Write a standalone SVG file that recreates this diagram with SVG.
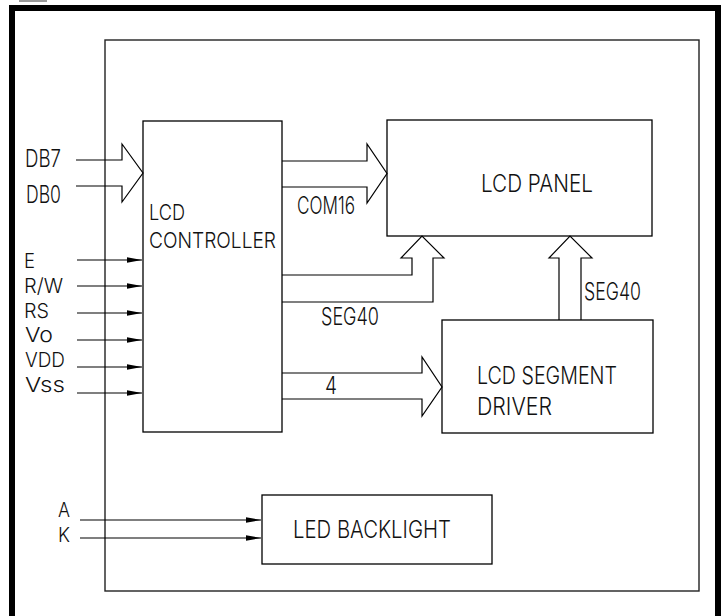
<svg xmlns="http://www.w3.org/2000/svg" width="726" height="616" viewBox="0 0 726 616">
<style>
.t{font-family:Inter,"DejaVu Sans Mono","Liberation Sans",sans-serif;font-weight:300;font-size:23.5px;fill:#111;}
.s{font-size:20.5px;}
.m{font-size:22px;}
.ln{fill:none;stroke:#000;stroke-width:1.2;}
.box{fill:none;stroke:#000;stroke-width:1.3;}
</style>
<defs>
<marker id="ah" markerUnits="userSpaceOnUse" markerWidth="16" markerHeight="8" refX="15" refY="4" orient="auto">
<path d="M0,1.3 L15,4 L0,6.7 Z" fill="#000"/>
</marker>
</defs>
<rect width="726" height="616" fill="#fff"/>
<rect x="19" y="0" width="28" height="2" fill="#999"/>
<path d="M12,616 V8 H718 V616" fill="none" stroke="#000" stroke-width="6"/>
<rect id="module" x="105" y="40" width="594" height="551" fill="none" stroke="#222" stroke-width="1.4"/>

<g id="lcd-controller">
<rect class="box" x="143" y="121" width="139" height="311"/>
<text class="t m" x="149" y="220" textLength="36" lengthAdjust="spacingAndGlyphs">LCD</text>
<text class="t m" x="149" y="248" textLength="127" lengthAdjust="spacingAndGlyphs">CONTROLLER</text>
</g>
<g id="lcd-panel">
<rect class="box" x="387" y="120" width="265" height="116"/>
<text class="t" x="481" y="192" textLength="112" lengthAdjust="spacingAndGlyphs">LCD PANEL</text>
</g>
<g id="lcd-segment-driver">
<rect class="box" x="442" y="320" width="211" height="113"/>
<text class="t" x="477" y="384" textLength="140" lengthAdjust="spacingAndGlyphs">LCD SEGMENT</text>
<text class="t" x="477" y="415" textLength="75" lengthAdjust="spacingAndGlyphs">DRIVER</text>
</g>
<g id="led-backlight">
<rect class="box" x="262" y="495" width="230" height="69"/>
<text class="t" x="293" y="538" textLength="158" lengthAdjust="spacingAndGlyphs">LED BACKLIGHT</text>
</g>

<g id="labels">
<text class="t" x="25" y="167" textLength="36" lengthAdjust="spacingAndGlyphs">DB7</text>
<text class="t" x="26" y="203" textLength="35" lengthAdjust="spacingAndGlyphs">DB0</text>
<text class="t s" x="24" y="268" textLength="11" lengthAdjust="spacingAndGlyphs">E</text>
<text class="t s" x="24" y="293" textLength="39" lengthAdjust="spacingAndGlyphs">R/W</text>
<text class="t s" x="24" y="318" textLength="25" lengthAdjust="spacingAndGlyphs">RS</text>
<text class="t s" x="25" y="342" textLength="28" lengthAdjust="spacingAndGlyphs">Vo</text>
<text class="t s" x="25" y="367" textLength="40" lengthAdjust="spacingAndGlyphs">VDD</text>
<text class="t s" x="25" y="392" textLength="40" lengthAdjust="spacingAndGlyphs">Vss</text>
<text class="t" x="297" y="214" textLength="58" lengthAdjust="spacingAndGlyphs">COM16</text>
<text class="t" x="321" y="325" textLength="58" lengthAdjust="spacingAndGlyphs">SEG40</text>
<text class="t" x="584" y="300" textLength="57" lengthAdjust="spacingAndGlyphs">SEG40</text>
<text class="t" x="325" y="394" textLength="12" lengthAdjust="spacingAndGlyphs">4</text>
<text class="t s" x="58" y="517" textLength="12" lengthAdjust="spacingAndGlyphs">A</text>
<text class="t s" x="58" y="542" textLength="12" lengthAdjust="spacingAndGlyphs">K</text>
</g>

<g id="connectors">
<path class="ln" d="M76,160 H122 V144 L143,173 L122,202 V186 H76"/>
<path class="ln" d="M282,161 H367 V144 L387,173.5 L367,203 V187 H282"/>
<path class="ln" d="M282,275 H412 V258 H401 L422,236 L444,258 H433 V302 H282"/>
<path class="ln" d="M559,320 V258 H549 L570,236 L592,258 H581 V320"/>
<path class="ln" d="M282,373 H422 V357 L442,387 L422,416 V399 H282"/>
<g class="ln" marker-end="url(#ah)">
<line x1="77" y1="260" x2="142" y2="260"/>
<line x1="77" y1="286" x2="142" y2="286"/>
<line x1="77" y1="313" x2="142" y2="313"/>
<line x1="77" y1="340" x2="142" y2="340"/>
<line x1="77" y1="367" x2="142" y2="367"/>
<line x1="77" y1="393" x2="142" y2="393"/>
<line x1="80" y1="520" x2="261" y2="520"/>
<line x1="80" y1="538" x2="261" y2="538"/>
</g>
</g>
</svg>
